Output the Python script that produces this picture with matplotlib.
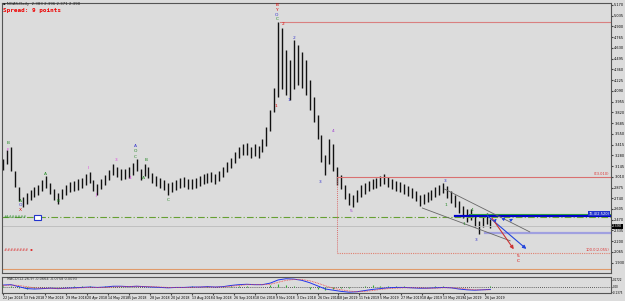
import matplotlib
matplotlib.use('Agg')
import matplotlib.pyplot as plt
import numpy as np

# ---- price bars (every 3rd trading day), high / low ----
highs = [3.23, 3.35, 3.38, 3.08, 2.88, 2.76, 2.80, 2.84, 2.88, 2.91,
         2.97, 3.02, 2.93, 2.86, 2.80, 2.86, 2.91, 2.94, 2.96, 2.98,
         2.99, 3.04, 3.07, 2.97, 2.92, 2.98, 3.03, 3.09, 3.17, 3.13,
         3.11, 3.11, 3.13, 3.18, 3.23, 3.11, 3.17, 3.13, 3.06, 3.02,
         2.99, 2.97, 2.93, 2.94, 2.97, 2.99, 3.01, 2.98, 2.98, 2.99,
         3.02, 3.04, 3.06, 3.07, 3.04, 3.08, 3.13, 3.20, 3.25, 3.32,
         3.38, 3.42, 3.43, 3.39, 3.42, 3.40, 3.48, 3.63, 3.85, 4.13,
         4.96, 4.88, 4.61, 4.48, 4.73, 4.67, 4.58, 4.48, 4.23, 4.01,
         3.79, 3.54, 3.29, 3.48, 3.42, 3.13, 3.03, 2.91, 2.80, 2.78,
         2.84, 2.91, 2.93, 2.96, 2.98, 2.99, 3.02, 3.04, 3.01, 2.98,
         2.96, 2.94, 2.92, 2.89, 2.87, 2.83, 2.78, 2.79, 2.82, 2.84,
         2.88, 2.91, 2.93, 2.89, 2.83, 2.78, 2.71, 2.64, 2.60, 2.61,
         2.54, 2.45, 2.53, 2.56, 2.48]
lows = [3.10, 3.17, 3.08, 2.88, 2.70, 2.63, 2.67, 2.72, 2.76, 2.78,
        2.83, 2.87, 2.79, 2.72, 2.67, 2.73, 2.78, 2.82, 2.83, 2.84,
        2.87, 2.91, 2.93, 2.83, 2.78, 2.86, 2.91, 2.97, 3.03, 3.01,
        2.97, 2.98, 2.99, 3.03, 3.08, 2.97, 3.02, 2.99, 2.93, 2.89,
        2.87, 2.84, 2.78, 2.82, 2.84, 2.87, 2.88, 2.86, 2.86, 2.87,
        2.89, 2.92, 2.93, 2.94, 2.92, 2.96, 3.01, 3.07, 3.12, 3.18,
        3.24, 3.28, 3.29, 3.25, 3.27, 3.25, 3.32, 3.40, 3.58, 3.83,
        4.01, 4.11, 4.04, 3.98, 4.11, 4.17, 4.13, 4.04, 3.85, 3.70,
        3.48, 3.20, 3.03, 3.17, 3.08, 2.91, 2.86, 2.73, 2.65, 2.63,
        2.69, 2.76, 2.79, 2.83, 2.86, 2.87, 2.89, 2.92, 2.88, 2.86,
        2.83, 2.82, 2.79, 2.77, 2.74, 2.70, 2.64, 2.67, 2.69, 2.72,
        2.76, 2.78, 2.81, 2.74, 2.68, 2.63, 2.55, 2.49, 2.44, 2.47,
        2.38, 2.29, 2.38, 2.42, 2.37]

# ---- MACD(12,26,9), every 6th trading day ----
macd_main = [0.04, 0.05, 0.00, -0.05, -0.06, -0.05, -0.04, -0.05, -0.04, -0.03,
             -0.02, -0.01, -0.02, -0.01, 0.01, 0.01, 0.00, 0.01, 0.00, -0.01,
             -0.02, -0.03, -0.02, -0.02, -0.01, -0.01, 0.00, -0.01, 0.00, 0.03,
             0.05, 0.06, 0.05, 0.05, 0.09, 0.17, 0.20, 0.19, 0.16, 0.10,
             0.02, -0.06, -0.09, -0.12, -0.14, -0.13, -0.10, -0.07, -0.05, -0.03,
             -0.02, -0.02, -0.03, -0.04, -0.04, -0.03, -0.02, -0.03, -0.06, -0.08,
             -0.09, -0.08, -0.07]
macd_signal = [0.03, 0.04, 0.03, 0.00, -0.03, -0.04, -0.04, -0.05, -0.04, -0.04,
               -0.03, -0.02, -0.02, -0.02, -0.01, 0.00, 0.00, 0.01, 0.00, 0.00,
               -0.01, -0.02, -0.02, -0.02, -0.02, -0.01, -0.01, -0.01, -0.01, 0.01,
               0.03, 0.05, 0.05, 0.05, 0.06, 0.11, 0.16, 0.18, 0.18, 0.15,
               0.09, 0.02, -0.04, -0.08, -0.11, -0.13, -0.12, -0.10, -0.07, -0.05,
               -0.04, -0.03, -0.03, -0.03, -0.04, -0.04, -0.03, -0.03, -0.04, -0.06,
               -0.08, -0.08, -0.08]

date_labels = ["22 Jan 2018", "13 Feb 2018", "7 Mar 2018", "29 Mar 2018", "20 Apr 2018",
               "14 May 2018", "5 Jun 2018", "28 Jun 2018", "20 Jul 2018", "13 Aug 2018",
               "4 Sep 2018", "26 Sep 2018", "18 Oct 2018", "9 Nov 2018", "3 Dec 2018",
               "26 Dec 2018", "18 Jan 2019", "11 Feb 2019", "5 Mar 2019", "27 Mar 2019",
               "18 Apr 2019", "13 May 2019", "4 Jun 2019", "26 Jun 2019"]

# horizontal levels: (price, start bar, colour, width, style)
levels = [(4.955, 211, '#d98080', 0.8, '-'),
          (3.010, 255, '#d97070', 0.8, '-'),
          (2.540, 356, '#33aa33', 0.8, '-'),
          (2.520, 345, '#0000cc', 1.6, '-'),
          (2.500, -1, '#66a033', 0.8, (0, (6, 2, 1, 2))),
          (2.390, -1, '#bbbbbb', 0.6, '-'),
          (2.305, 368, '#a0a0e0', 1.6, '-'),
          (2.055, 255, '#e08070', 0.8, (0, (1, 1))),
          (1.855, -1, '#e09a6a', 0.8, '-')]

# wave labels: (bar, price, text, colour)
wave_labels = [(4, 3.43, 'B', '#228822'), (4, 3.35, 'F', '#dd44dd'),
               (13, 2.71, 'A', '#228822'), (13, 2.65, 'O', '#3333cc'), (13, 2.59, 'X', '#dd0000'),
               (32, 3.05, 'A', '#228822'), (42, 2.70, 'B', '#228822'),
               (65, 3.12, 'I', '#dd44dd'), (71, 2.78, 'J', '#dd44dd'),
               (86, 3.22, '3', '#dd44dd'), (101, 3.40, 'A', '#3333cc'),
               (101, 3.33, 'O', '#228822'), (101, 3.26, 'C', '#228822'),
               (97, 3.00, '4', '#dd44dd'), (109, 3.22, 'B', '#228822'),
               (107, 3.00, 'A', '#228822'), (126, 2.72, 'C', '#228822'),
               (209, 5.17, 'B', '#dd0000'), (209, 5.11, 'Y', '#dd0000'),
               (209, 5.05, 'O', '#3333cc'), (209, 4.99, 'C', '#228822'),
               (214, 4.93, '2', '#dd0000'), (222, 4.76, '2', '#3333cc'),
               (218, 3.97, '1', '#3333cc'), (208, 3.90, '1', '#dd0000'),
               (252, 3.58, '4', '#9933cc'), (242, 2.95, '3', '#3333cc'),
               (266, 2.58, '5', '#9933cc'), (337, 2.96, '3', '#3333cc'),
               (338, 2.66, '1', '#228822'), (358, 2.59, '4', '#228822'),
               (352, 2.42, '1', '#228822'), (361, 2.22, '3', '#3333cc'),
               (393, 2.02, '5', '#dd0000'), (393, 1.95, 'C', '#dd0000')]

bg = '#dcdcdc'
fig = plt.figure(figsize=(6.25, 3.01), dpi=100, facecolor=bg)
W, H = 625.0, 301.0
ax = fig.add_axes([2 / W, 1 - 273 / H, 609 / W, 270 / H], facecolor=bg)
ax2 = fig.add_axes([2 / W, 1 - 293 / H, 609 / W, 16 / H], facecolor=bg)

xmax = 464
ax.set_xlim(-0.8, xmax)
ax.set_ylim(1.80, 5.195)

bar_x = np.arange(len(highs)) * 3
ax.vlines(bar_x, lows, highs, color='#111111', lw=1.0)

for price, start, col, lw, ls in levels:
    ax.plot([start, xmax], [price, price], color=col, lw=lw, ls=ls)

# fibo vertical
ax.plot([255, 255], [3.010, 2.055], color='#d97070', lw=0.7, ls=(0, (1, 1)))

# channel lines
ax.plot([337, 402], [2.855, 2.317], color='#666666', lw=0.6)
ax.plot([320, 387], [2.617, 2.205], color='#666666', lw=0.6)

# projection arrows
ax.annotate('', xy=(401, 2.08), xytext=(368, 2.543),
            arrowprops=dict(arrowstyle='-|>', color='#2244dd', lw=0.8, mutation_scale=5))
ax.annotate('', xy=(391, 2.07), xytext=(372, 2.518),
            arrowprops=dict(arrowstyle='-|>', color='#cc3333', lw=0.8, mutation_scale=5))
for x0, y0, x1, y1 in [(374, 2.43, 378, 2.51), (380, 2.45, 385, 2.52), (386, 2.45, 391, 2.50)]:
    ax.annotate('', xy=(x1, y1), xytext=(x0, y0),
                arrowprops=dict(arrowstyle='-|>', color='#2244dd', lw=0.6, mutation_scale=4))

for bx, py, t, col in wave_labels:
    ax.text(bx, py, t, color=col, fontsize=3.2, ha='center', va='center')

# level labels on the right
ax.text(xmax - 1, 3.018, '0(3.010)', color='#dd3333', fontsize=2.6, ha='right', va='bottom')
ax.text(xmax - 1, 2.522, '76.4(2.520)', color='white', fontsize=2.6, ha='right', va='bottom',
        bbox=dict(boxstyle='square,pad=0.1', fc='#2233cc', ec='none'))
ax.text(xmax - 1, 2.062, '100.0(2.055)', color='#dd3333', fontsize=2.6, ha='right', va='bottom')
ax.text(0.5, 2.51, '########', color='#228822', fontsize=2.4, ha='left', va='center')
ax.text(24, 2.50, '     ', fontsize=2.6, ha='left', va='center',
        bbox=dict(boxstyle='square,pad=0.2', fc='white', ec='#2233cc', lw=0.8))
ax.text(0.5, 2.095, '########  \u25aa', color='#dd3333', fontsize=2.6, ha='left', va='center')

yt = 5.170 - 0.135 * np.arange(25)
ax.yaxis.tick_right()
ax.set_yticks(yt)
ax.set_yticklabels([f'{v:.3f}' for v in yt])
ax.tick_params(axis='y', labelsize=2.5, length=1.5, pad=0.8, color='#444444')
ax.set_xticks([])
for s in ax.spines.values():
    s.set_color('#555555')
    s.set_linewidth(0.8)

# current price tag
ax.text(1.002, 2.39, '2.390', transform=ax.get_yaxis_transform(), color='white',
        fontsize=2.5, ha='left', va='center',
        bbox=dict(boxstyle='square,pad=0.15', fc='black', ec='none'))

# ---- MACD panel ----
mx = np.arange(len(macd_main)) * 6
ax2.set_xlim(-0.8, xmax)
ax2.set_ylim(-0.161, 0.244)
ax2.axhline(0, color='#333333', lw=0.6, ls=(0, (1, 1.5)))
hist = np.array(macd_main) - np.array(macd_signal)
ax2.vlines(mx, 0, hist, color='#33aa33', lw=0.8)
ax2.plot(mx, macd_main, color='#2233ee', lw=0.7)
ax2.plot(mx, macd_signal, color='#ee4444', lw=0.6, ls=(0, (1, 1)))
ax2.text(3, 0.20, 'MACD(12,26,9) -0.0664 -0.0758 0.0093', fontsize=2.5,
         color='#333333', ha='left', va='center')
ax2.yaxis.tick_right()
ax2.set_yticks([0.1722, 0.0, -0.1375])
ax2.set_yticklabels(['0.1722', '0.00', '-0.1375'])
ax2.tick_params(axis='y', labelsize=2.0, length=1.0, pad=0.5, color='#444444')
ax2.set_xticks(np.arange(len(date_labels)) * 16)
ax2.set_xticklabels(date_labels, ha='left')
ax2.tick_params(axis='x', labelsize=2.3, length=1.5, pad=0.8, color='#444444')
for s in ax2.spines.values():
    s.set_color('#555555')
    s.set_linewidth(0.8)

# header
fig.text(3 / W, 1 - 4.5 / H, '\u25aa NGAS,Daily  2.383 2.396 2.371 2.390', fontsize=2.8,
         color='#222222', ha='left', va='center')
fig.text(3 / W, 1 - 10.5 / H, 'Spread: 9 points', fontsize=4.3, color='#ee0000',
         weight='bold', family='DejaVu Sans Mono', ha='left', va='center')

fig.savefig('out.png', dpi=100, facecolor=bg)
